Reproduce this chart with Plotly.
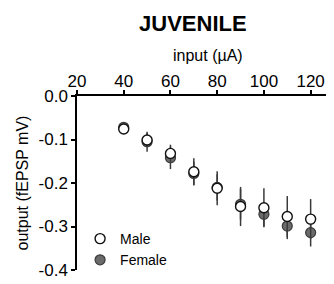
import plotly.graph_objects as go

inputs = [40, 50, 60, 70, 80, 90, 100, 110, 120]
male_mean = [-0.076, -0.101, -0.132, -0.174, -0.212, -0.254, -0.257, -0.277, -0.283]
male_err = [0.010, 0.016, 0.020, 0.031, 0.039, 0.045, 0.045, 0.047, 0.046]
female_mean = [-0.072, -0.105, -0.142, -0.178, -0.210, -0.249, -0.272, -0.299, -0.314]
female_err = [0.010, 0.023, 0.026, 0.027, 0.030, 0.035, 0.028, 0.030, 0.032]

x_ticks = [20, 40, 60, 80, 100, 120]
y_ticks = [0.0, -0.1, -0.2, -0.3, -0.4]
y_ticktext = ["0.0", "-0.1", "-0.2", "-0.3", "-0.4"]

FONT = "Arial, Liberation Sans, sans-serif"

fig = go.Figure()
fig.add_trace(go.Scatter(
    x=inputs, y=female_mean, mode="markers", name="Female", legendrank=2,
    marker=dict(size=10, color="#6b6b6b", line=dict(color="#3a3a3a", width=1.2)),
    error_y=dict(type="data", array=female_err, color="#3a3a3a", thickness=1.5, width=0),
))
fig.add_trace(go.Scatter(
    x=inputs, y=male_mean, mode="markers", name="Male", legendrank=1,
    marker=dict(size=10, color="white", line=dict(color="#111111", width=1.4)),
    error_y=dict(type="data", array=male_err, color="#3a3a3a", thickness=1.5, width=0),
))

fig.add_annotation(text="input (µA)", xref="paper", yref="paper", x=0.51, y=1.235,
                   xanchor="center", yanchor="middle", showarrow=False,
                   font=dict(size=16, family=FONT, color="black"))

fig.update_layout(
    width=326, height=276,
    margin=dict(l=69, r=0, t=88, b=14),
    paper_bgcolor="white", plot_bgcolor="white",
    font=dict(family=FONT, color="black"),
    title=dict(text="<b>JUVENILE</b>", x=0.567, xanchor="center", y=0.944, yanchor="middle",
               font=dict(size=22, family=FONT, color="black")),
    showlegend=True,
    legend=dict(x=0.012, xanchor="left", y=0.27, yanchor="top", bgcolor="rgba(0,0,0,0)",
                font=dict(size=14, family=FONT, color="black"), tracegroupgap=0),
    xaxis=dict(
        range=[20, 130], side="top", tickvals=x_ticks, ticks="outside", ticklen=4,
        tickwidth=1.5, tickcolor="black", showline=True, linecolor="black", linewidth=1.5,
        showgrid=False, zeroline=False, tickfont=dict(size=17, family=FONT, color="black"),
        automargin=False, ticklabelstandoff=-4,
    ),
    yaxis=dict(
        range=[-0.4, 0.0], tickvals=y_ticks, ticktext=y_ticktext, ticks="outside", ticklen=4,
        tickwidth=1.5, tickcolor="black", showline=True, linecolor="black", linewidth=1.5,
        showgrid=False, zeroline=False, tickfont=dict(size=17, family=FONT, color="black"),
        automargin=False,
        title=dict(text="output (fEPSP mV)", font=dict(size=16, family=FONT, color="black"), standoff=6),
    ),
)

fig.write_html("out.html")
